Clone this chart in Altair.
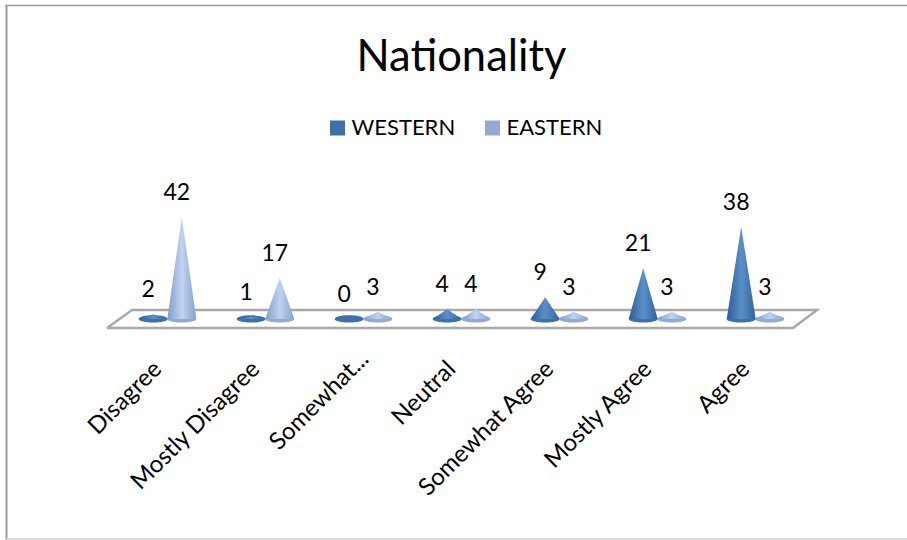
import json
import altair as alt
import pandas as pd

categories = ["Disagree", "Mostly Disagree", "Somewhat...", "Neutral",
              "Somewhat Agree", "Mostly Agree", "Agree"]
western = [2, 1, 0, 4, 9, 21, 38]
eastern = [42, 17, 3, 4, 3, 3, 3]
series_names = ["WESTERN", "EASTERN"]
series_colors = ["#3F70A8", "#93A8D2"]

FONT = "Lato"
CONE_OFFSET = 0.146   # cone centre distance from the category centre
CONE_RADIUS = 0.148   # cone base radius, in category units
ELLIPSE = "M-1,0 A1,0.25 0 1,0 1,0 A1,0.25 0 1,0 -1,0 Z"

rows, vertices = [], []
for i, cat in enumerate(categories):
    for name, vals, sign in ((series_names[0], western, -1), (series_names[1], eastern, 1)):
        cx = i + sign * CONE_OFFSET
        rows.append({"cat": cat, "series": name, "value": vals[i], "cx": cx, "base": 0})
        for dx, h in ((-CONE_RADIUS, 0), (0, vals[i]), (CONE_RADIUS, 0)):
            vertices.append({"cat": cat, "series": name, "vx": cx + dx, "top": h, "base": 0})
bars = pd.DataFrame(rows)
cones = pd.DataFrame(vertices)

# floor parallelogram under the cones
floor = pd.DataFrame({
    "fx": [-0.617, 6.383, 6.628, -0.362, -0.617],
    "fy": [-3.72, -3.72, 3.72, 3.72, -3.72],
    "o": [0, 1, 2, 3, 4],
})

x_scale = alt.Scale(domain=[-0.5, 6.5], nice=False, zero=False)
y_scale = alt.Scale(domain=[-3.72, 50], nice=False, zero=False)
label_expr = json.dumps(categories) + "[datum.value]"
# the shortened third label sits a little further up its diagonal
x_axis = alt.Axis(
    values=list(range(len(categories))), labelExpr=label_expr, title=None,
    grid=False, domain=False, ticks=False, labelAngle=-45, labelAlign="right",
    labelBaseline="middle", labelFont=FONT, labelFontSize=24, labelColor="#000000",
    labelPadding=alt.expr("datum.value === 2 ? 27 : 37"),
    labelOffset=alt.expr("datum.value === 2 ? 1 : -10"),
    labelOverlap=False, labelBound=False, labelFlush=False, labelLimit=400)


def gradient(edge_l, mid, edge_r):
    return alt.Gradient(
        gradient="linear", x1=0, x2=1, y1=0, y2=0,
        stops=[alt.GradientStop(offset=0, color=edge_l),
               alt.GradientStop(offset=0.5, color=mid),
               alt.GradientStop(offset=1, color=edge_r)],
    )


grads = {
    "WESTERN": gradient("#2A5C93", "#5A90C8", "#2F639C"),
    "EASTERN": gradient("#7F9CCB", "#C0D3F0", "#86A2D0"),
}

floor_layer = alt.Chart(floor).mark_line(color="#A8A8A8", strokeWidth=2.4).encode(
    x=alt.X("fx:Q", scale=x_scale, axis=x_axis),
    y=alt.Y("fy:Q", scale=y_scale, axis=None),
    order="o:Q",
)

bases = alt.Chart(bars).mark_point(filled=True, shape=ELLIPSE, size=841, opacity=1).encode(
    x=alt.X("cx:Q", scale=x_scale, axis=x_axis),
    y=alt.Y("base:Q", scale=y_scale, axis=None),
    color=alt.Color("series:N",
                    scale=alt.Scale(domain=series_names, range=series_colors),
                    legend=alt.Legend(
                        title=None, orient="none", legendX=208, legendY=-81,
                        direction="horizontal", symbolType="square", symbolSize=225,
                        symbolOpacity=1, labelFont=FONT, labelFontSize=22,
                        labelColor="#000000", labelOffset=3, columnPadding=26)),
)

cone_layers = [
    alt.Chart(cones[cones.series == name]).mark_area(fill=grads[name], line=False).encode(
        x=alt.X("vx:Q", scale=x_scale, axis=x_axis),
        y=alt.Y("top:Q", scale=y_scale, axis=None),
        y2="base:Q",
        detail="cat:N",
    )
    for name in series_names
]

value_labels = alt.Chart(bars).mark_text(
    font=FONT, fontSize=23, color="#000000", dx=-5, dy=-24, baseline="middle"
).encode(
    x=alt.X("cx:Q", scale=x_scale, axis=x_axis),
    y=alt.Y("value:Q", scale=y_scale, axis=None),
    text="value:Q",
)

# border of the chart area, placed relative to the plot origin
blank = alt.Data(values=[{"a": 1}])
top_rule = alt.Chart(blank).mark_rule(color="#9A9A9A", strokeWidth=1.5).encode(
    x=alt.value(-113), x2=alt.value(789), y=alt.value(-192.5))
left_rule = alt.Chart(blank).mark_rule(color="#9A9A9A", strokeWidth=2).encode(
    x=alt.value(-112), y=alt.value(-193), y2=alt.value(342))
bottom_rule = alt.Chart(blank).mark_rule(color="#D0D0D0", strokeWidth=1.5).encode(
    x=alt.value(-113), x2=alt.value(789), y=alt.value(341))

chart = alt.layer(
    floor_layer, bases, *cone_layers, value_labels, top_rule, left_rule, bottom_rule
).properties(
    width=686, height=130,
    padding={"left": 118.5, "top": 198, "right": 102.5, "bottom": 212},
    autosize=alt.AutoSizeParams(type="none"),
    background="#FFFFFF",
    title=alt.TitleParams("Nationality", font=FONT, fontSize=43.5, fontWeight="normal",
                          color="#000000", anchor="middle", offset=-76),
).configure_view(stroke=None)

chart.save("out.html", embed_options={"renderer": "svg", "actions": False})
